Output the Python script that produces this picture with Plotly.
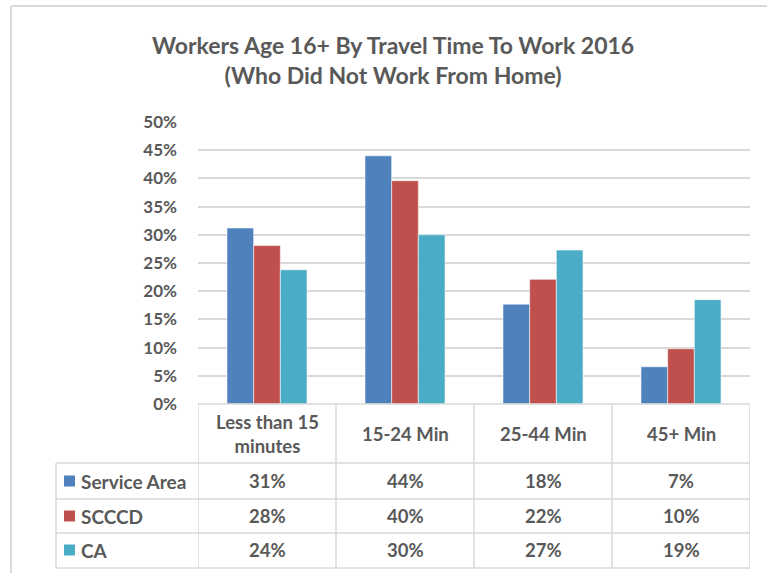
import plotly.graph_objects as go

categories = ["Less than 15<br>minutes", "15-24 Min", "25-44 Min", "45+ Min"]
series_names = ["Service Area", "SCCCD", "CA"]
service_area = [31.2, 44.0, 17.7, 6.6]
scccd = [28.1, 39.6, 22.1, 9.8]
ca = [23.8, 30.0, 27.3, 18.5]
table_service_area = ["31%", "44%", "18%", "7%"]
table_scccd = ["28%", "40%", "22%", "10%"]
table_ca = ["24%", "30%", "27%", "19%"]
y_ticks = [0, 5, 10, 15, 20, 25, 30, 35, 40, 45, 50]
colors = ["#4F81BD", "#C0504D", "#4BACC6"]

W, H = 767, 573
L, R, T, B = 198, 750, 122, 404
TXT = "#595959"
GRID = "#D9D9D9"
FONT = "Lato"


def X(px):
    return (px - L) / (R - L)


def Y(py):
    return (B - py) / (B - T)


fig = go.Figure()
for name, vals, col in zip(series_names, [service_area, scccd, ca], colors):
    fig.add_trace(go.Bar(
        x=list(range(len(categories))), y=vals, name=name,
        marker=dict(color=col, line=dict(color="rgba(255,255,255,0.55)", width=1)),
        hoverinfo="y+name",
    ))

fig.update_layout(
    width=W, height=H,
    margin=dict(l=L, r=W - R, t=T, b=H - B, pad=0),
    paper_bgcolor="white", plot_bgcolor="white",
    barmode="group", bargap=0.42, bargroupgap=0,
    showlegend=False,
    font=dict(family=FONT, color=TXT),
    xaxis=dict(range=[-0.5, len(categories) - 0.5], showticklabels=False,
               showgrid=False, zeroline=False, showline=False, fixedrange=True),
    yaxis=dict(range=[0, 50], tickvals=y_ticks, ticktext=[f"{v}%" for v in y_ticks],
               showgrid=True, gridcolor=GRID, gridwidth=1.5, zeroline=False,
               showline=False, ticks="", ticklabelstandoff=20, fixedrange=True,
               tickfont=dict(family=FONT, size=17, color=TXT, weight="bold")),
)

# title
fig.add_annotation(
    text="<b>Workers Age 16+ By Travel Time To Work 2016<br>(Who Did Not Work From Home)</b>",
    xref="paper", yref="paper", x=X(393), y=Y(60), xanchor="center", yanchor="middle",
    showarrow=False, font=dict(family=FONT, size=23, color=TXT), align="center",
)

shapes = []
line = dict(color=GRID, width=1.5)
# outer chart border (top & left)
shapes.append(dict(type="line", xref="paper", yref="paper", x0=X(11), x1=X(767), y0=Y(6), y1=Y(6), line=dict(color=GRID, width=2)))
shapes.append(dict(type="line", xref="paper", yref="paper", x0=X(11), x1=X(11), y0=Y(6), y1=Y(573), line=dict(color=GRID, width=2)))

row_lines = [404, 463, 499, 533, 568]
for i, py in enumerate(row_lines):
    x0 = X(L) if i == 0 else X(56)
    shapes.append(dict(type="line", xref="paper", yref="paper", x0=x0, x1=X(R), y0=Y(py), y1=Y(py), line=line))
# vertical lines at category boundaries
for k in range(len(categories) + 1):
    shapes.append(dict(type="line", xref="x", yref="paper", x0=k - 0.5, x1=k - 0.5, y0=Y(404), y1=Y(568), line=line))
shapes.append(dict(type="line", xref="paper", yref="paper", x0=X(56), x1=X(56), y0=Y(463), y1=Y(568), line=line))

# legend keys
row_centers = [481, 516, 550]
for col, cy in zip(colors, row_centers):
    shapes.append(dict(type="rect", xref="paper", yref="paper", x0=X(64), x1=X(75), y0=Y(cy - 5.5), y1=Y(cy + 5.5),
                       fillcolor=col, line=dict(width=0)))
fig.update_layout(shapes=shapes)

TS = 18.5
# category labels
for i, c in enumerate(categories):
    fig.add_annotation(text=f"<b>{c}</b>", xref="x", yref="paper", x=i, y=Y(434), showarrow=False,
                       xanchor="center", yanchor="middle", font=dict(family=FONT, size=TS, color=TXT))

# row labels and values
for name, labels, cy in zip(series_names, [table_service_area, table_scccd, table_ca], row_centers):
    fig.add_annotation(text=f"<b>{name}</b>", xref="paper", yref="paper", x=X(79), y=Y(cy), showarrow=False,
                       xanchor="left", yanchor="middle", font=dict(family=FONT, size=19, color=TXT))
    for i, lab in enumerate(labels):
        fig.add_annotation(text=f"<b>{lab}</b>", xref="x", yref="paper", x=i, y=Y(cy), showarrow=False,
                           xanchor="center", yanchor="middle", font=dict(family=FONT, size=TS, color=TXT))

fig.write_html("out.html", config={"displayModeBar": False},
               post_script="document.body.style.margin='0px';document.body.style.overflow='hidden';")
